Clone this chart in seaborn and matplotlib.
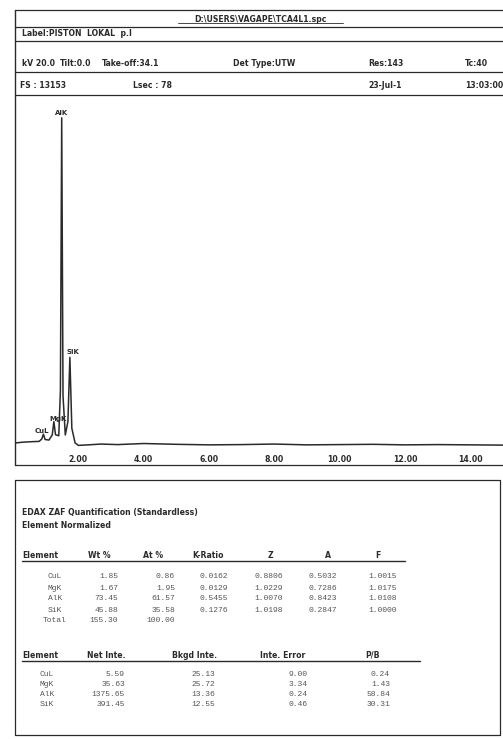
import numpy as np
import pandas as pd
import matplotlib
matplotlib.use("Agg")
import matplotlib.pyplot as plt
import seaborn as sns

# spectrum trace (energy in keV, counts)
energy_kev = [0.06, 0.30, 0.60, 0.80, 0.88, 0.93, 0.98, 1.10, 1.20, 1.25, 1.30,
              1.40, 1.45, 1.49, 1.53, 1.60, 1.68, 1.74, 1.80, 1.90, 2.00, 2.30,
              2.70, 3.20, 4.00, 5.00, 6.00, 7.00, 8.00, 9.00, 10.00, 11.00,
              12.00, 13.00, 14.00, 15.00]
counts = [150, 180, 200, 210, 300, 480, 280, 260, 450, 950, 460, 420, 2100,
          12300, 1900, 450, 950, 3350, 700, 150, 60, 80, 110, 90, 130, 100,
          80, 90, 110, 80, 90, 100, 80, 90, 80, 70]
full_scale = 13153

peak_names = ["CuL", "MgK", "AlK", "SiK"]
peak_energy = [0.93, 1.25, 1.49, 1.74]
tick_keV = [2, 4, 6, 8, 10, 12, 14]

# header fields
file_name = "D:\\USERS\\VAGAPE\\TCA4L1.spc"
label_line = "Label:PISTON  LOKAL  p.I"
row_kv = ["kV 20.0", "Tilt:0.0", "Take-off:34.1", "Det Type:UTW", "Res:143", "Tc:40"]
row_fs = ["FS : 13153", "Lsec : 78", "23-Jul-1", "13:03:00"]

# ZAF table
elements = ["CuL", "MgK", "AlK", "SiK"]
wt_pct = ["1.85", "1.67", "73.45", "45.88"]
at_pct = ["0.86", "1.95", "61.57", "35.58"]
k_ratio = ["0.0162", "0.0129", "0.5455", "0.1276"]
z_corr = ["0.8806", "1.0229", "1.0070", "1.0198"]
a_corr = ["0.5032", "0.7286", "0.8423", "0.2847"]
f_corr = ["1.0015", "1.0175", "1.0108", "1.0000"]
totals = ["155.30", "100.00"]

net_int = ["5.59", "35.63", "1375.65", "391.45"]
bkgd_int = ["25.13", "25.72", "13.36", "12.55"]
int_err = ["9.00", "3.34", "0.24", "0.46"]
p_b = ["0.24", "1.43", "58.84", "30.31"]

sns.set_style("white")
plt.rcParams["font.family"] = ["DejaVu Sans"]
ink = "#2a2a2a"
soft = "#555555"
mono = "Liberation Mono"

fig = plt.figure(figsize=(5.03, 7.39), dpi=100)
bg = fig.add_axes([0, 0, 1, 1])
bg.set_xlim(0, 503)
bg.set_ylim(739, 0)
bg.axis("off")

# frame lines of the spectrum sheet
for y in [10, 27, 41, 72, 95, 465]:
    bg.plot([15, 503], [y, y], color=ink, lw=0.9)
bg.plot([15, 15], [10, 465], color=ink, lw=1.0)

# quantification box
bg.plot([15, 500, 500, 15, 15], [480, 480, 735, 735, 480], color=ink, lw=0.9)

hdr = dict(fontsize=5.6, fontweight="bold", color=ink, va="center")
bg.text(260, 19, file_name, ha="center", **hdr)
bg.plot([178, 343], [23, 23], color=ink, lw=0.6)
bg.text(22, 34, label_line, ha="left", **hdr)
for x, s in zip([22, 60, 102, 233, 368, 465], row_kv):
    bg.text(x, 63, s, ha="left", **hdr)
for x, s in zip([20, 133, 368, 465], row_fs):
    bg.text(x, 86, s, ha="left", **hdr)

# spectrum
ax = fig.add_axes([15 / 503, 1 - 447 / 739, 488 / 503, 352 / 739])
ax.patch.set_alpha(0)
spec = pd.DataFrame({"energy": energy_kev, "counts": counts})
sns.lineplot(data=spec, x="energy", y="counts", ax=ax, color=ink, linewidth=1.1)
ax.set_xlim(0.06, 15.0)
ax.set_ylim(0, full_scale)
ax.set_xticks(tick_keV)
ax.set_xticklabels([f"{t:.2f}" for t in tick_keV], fontsize=5.6,
                   fontweight="bold", color=ink)
ax.tick_params(axis="x", length=0, pad=6)
ax.set_yticks([])
ax.set_xlabel("")
ax.set_ylabel("")
for s in ax.spines.values():
    s.set_visible(False)

peak_counts = np.interp(peak_energy, energy_kev, counts)
offsets = {"CuL": (-1, 0), "MgK": (3, 0), "AlK": (0, 1), "SiK": (2, 2)}
for name, e, c in zip(peak_names, peak_energy, peak_counts):
    dx, dy = offsets[name]
    ax.annotate(name, (e, c), xytext=(dx, dy), textcoords="offset points",
                ha="center", va="bottom", fontsize=5.0, fontweight="bold",
                color=ink)

# quantification text
bg.text(22, 513, "EDAX ZAF Quantification (Standardless)", ha="left", **hdr)
bg.text(22, 525, "Element Normalized", ha="left", **hdr)

heads1 = ["Element", "Wt %", "At %", "K-Ratio", "Z", "A", "F"]
hx1 = [22, 88, 143, 192, 268, 325, 375]
for x, s in zip(hx1, heads1):
    bg.text(x, 556, s, ha="left", **hdr)
bg.plot([22, 405], [561, 561], color=ink, lw=1.0)

cell = dict(fontsize=5.8, family=mono, color=soft, va="center", ha="right")
rows1 = [577, 588, 599, 610]
cols1 = [(118, wt_pct), (175, at_pct), (228, k_ratio), (283, z_corr),
         (337, a_corr), (397, f_corr)]
for i, y in enumerate(rows1):
    bg.text(55, y, elements[i], **{**cell, "ha": "center"})
    for x, vals in cols1:
        bg.text(x, y, vals[i], **cell)
bg.text(55, 620, "Total", **{**cell, "ha": "center"})
bg.text(118, 620, totals[0], **cell)
bg.text(175, 620, totals[1], **cell)

heads2 = ["Element", "Net Inte.", "Bkgd Inte.", "Inte. Error", "P/B"]
hx2 = [22, 87, 172, 260, 365]
for x, s in zip(hx2, heads2):
    bg.text(x, 655, s, ha="left", **hdr)
bg.plot([22, 420], [661, 661], color=ink, lw=1.0)

rows2 = [674, 684, 694, 704]
cols2 = [(125, net_int), (215, bkgd_int), (308, int_err), (390, p_b)]
for i, y in enumerate(rows2):
    bg.text(47, y, elements[i], **{**cell, "ha": "center"})
    for x, vals in cols2:
        bg.text(x, y, vals[i], **cell)

fig.savefig("out.png", dpi=100)
